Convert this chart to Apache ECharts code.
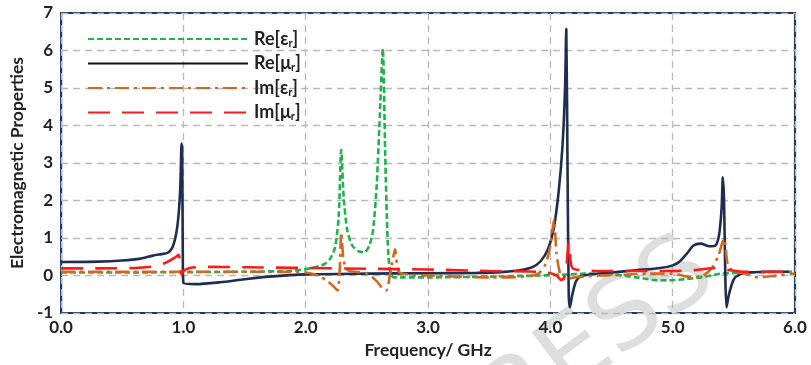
<!DOCTYPE html>
<html>
<head>
<meta charset="utf-8">
<script src="https://cdn.jsdelivr.net/npm/echarts@6/dist/echarts.min.js"></script>
<style>html,body{margin:0;padding:0;background:#fff;}#c{width:811px;height:365px;}</style>
</head>
<body>
<div id="c"></div>
<script>
// ---- data ----
const seriesNames = ['Re[εr]', 'Re[μr]', 'Im[εr]', 'Im[μr]'];
const xTicks = [0, 1, 2, 3, 4, 5, 6];

const reEpsX = [0, 0.5, 1.0, 1.5, 1.9, 2.05, 2.15, 2.2, 2.24, 2.27, 2.29, 2.31, 2.34, 2.38, 2.43, 2.48, 2.52, 2.55, 2.58, 2.61, 2.63, 2.65, 2.67, 2.69, 2.72, 2.8, 3.0, 3.5, 3.9, 4.1, 4.3, 4.5, 4.7, 4.85, 4.95, 5.1, 5.25, 5.4, 5.6, 6.0];
const reEpsY = [0.08, 0.08, 0.09, 0.1, 0.13, 0.2, 0.3, 0.45, 0.75, 1.6, 3.35, 2.1, 1.2, 0.8, 0.65, 0.62, 0.8, 1.2, 2.4, 4.6, 6.05, 3.2, 0.9, 0.1, -0.05, -0.05, -0.05, -0.03, 0.0, 0.02, 0.05, 0.03, -0.05, -0.12, -0.13, -0.1, -0.04, 0.05, 0.08, 0.1];

const reMuX = [0, 0.3, 0.5, 0.65, 0.75, 0.82, 0.87, 0.91, 0.94, 0.96, 0.975, 0.985, 0.99, 0.995, 1.0, 1.1, 1.3, 1.5, 1.7, 2.0, 2.5, 3.0, 3.4, 3.6, 3.75, 3.85, 3.92, 3.98, 4.03, 4.07, 4.1, 4.12, 4.13, 4.14, 4.15, 4.16, 4.18, 4.21, 4.25, 4.33, 4.5, 4.7, 4.9, 5.0, 5.06, 5.12, 5.17, 5.23, 5.3, 5.35, 5.38, 5.4, 5.41, 5.42, 5.43, 5.44, 5.46, 5.5, 5.55, 5.62, 5.8, 5.95];
const reMuY = [0.36, 0.37, 0.4, 0.45, 0.53, 0.57, 0.6, 0.75, 1.1, 1.6, 2.4, 3.52, 3.3, 0.5, -0.2, -0.23, -0.18, -0.1, -0.03, 0.03, 0.05, 0.06, 0.07, 0.09, 0.14, 0.22, 0.38, 0.7, 1.3, 2.3, 3.5, 5.0, 6.58, 3.0, -0.5, -0.85, -0.5, -0.15, -0.02, 0.03, 0.08, 0.14, 0.2, 0.27, 0.38, 0.6, 0.8, 0.85, 0.78, 0.8, 1.1, 1.8, 2.62, 2.0, 0.0, -0.85, -0.5, -0.1, 0.03, 0.08, 0.1, 0.1];

const imEpsX = [0, 0.5, 1.0, 1.5, 2.0, 2.1, 2.18, 2.23, 2.26, 2.28, 2.29, 2.31, 2.34, 2.4, 2.5, 2.58, 2.63, 2.66, 2.69, 2.71, 2.73, 2.76, 2.85, 3.0, 3.5, 3.8, 3.9, 3.96, 4.0, 4.03, 4.05, 4.08, 4.12, 4.2, 4.4, 4.6, 4.8, 5.0, 5.15, 5.25, 5.32, 5.37, 5.42, 5.45, 5.5, 5.6, 5.7, 5.8, 6.0];
const imEpsY = [0.1, 0.1, 0.1, 0.1, 0.08, 0.0, -0.15, -0.3, -0.4, 0.3, 1.15, 0.4, 0.15, 0.1, 0.05, -0.15, -0.35, -0.4, 0.05, 0.4, 0.7, 0.1, 0.02, 0.0, -0.05, -0.03, 0.05, 0.3, 0.8, 1.5, 0.6, 0.05, -0.1, -0.05, 0.0, 0.02, 0.05, 0.05, -0.05, 0.0, 0.2, 0.5, 0.98, 0.3, 0.1, 0.05, -0.05, -0.02, 0.05];

const imMuX = [0, 0.3, 0.6, 0.75, 0.84, 0.9, 0.94, 0.96, 0.975, 0.985, 1.0, 1.05, 1.2, 1.5, 2.0, 2.5, 3.0, 3.5, 3.9, 4.0, 4.05, 4.09, 4.11, 4.13, 4.15, 4.165, 4.18, 4.23, 4.4, 4.7, 5.0, 5.2, 5.35, 5.45, 5.6, 6.0];
const imMuY = [0.19, 0.19, 0.2, 0.24, 0.32, 0.42, 0.5, 0.55, 0.3, 0.02, 0.12, 0.2, 0.23, 0.22, 0.2, 0.18, 0.16, 0.12, 0.1, 0.06, 0.0, -0.12, -0.08, 0.2, 0.9, 0.4, 0.2, 0.15, 0.12, 0.12, 0.12, 0.15, 0.2, 0.15, 0.1, 0.1];

// ---- chart ----
function zip(xs, ys) { return xs.map((x, i) => [x, ys[i]]); }
const FONT = 'Lato';
const chart = echarts.init(document.getElementById('c'), null, { renderer: 'canvas' });

function legendFmt(name) {
  const m = name.match(/^(.*)r\](.*)$/);
  return '{a|' + m[1] + '}{s|r}{a|]}';
}

const mk = (name, xs, ys, color, type, z) => ({
  name: name, type: 'line', data: zip(xs, ys), symbol: 'none', smooth: 0.25, z: z,
  lineStyle: { color: color, width: 2.6, type: type }, itemStyle: { color: color }
});

chart.setOption({
  animation: false,
  backgroundColor: '#fff',
  grid: { left: 57, right: 16, top: 13, bottom: 52, show: true, borderColor: '#1f3864', borderWidth: 2.2, backgroundColor: 'transparent' },
  graphic: [{
    type: 'text', left: 418, top: 222, rotation: 0.64, z: 0, silent: true,
    style: { text: 'PRESS', fontSize: 100, fontFamily: 'DejaVu Sans', fill: '#dedede' }
  }],
  legend: {
    orient: 'vertical', left: 82, top: 25, itemWidth: 160, itemHeight: 12, itemGap: 6,
    itemStyle: { opacity: 0 },
    data: [
      { name: seriesNames[0] },
      { name: seriesNames[1], lineStyle: { color: '#111' } },
      { name: seriesNames[2] },
      { name: seriesNames[3] }
    ],
    formatter: legendFmt,
    textStyle: {
      padding: [0, 0, 0, 1],
      rich: {
        a: { fontSize: 18, fontWeight: 'bold', color: '#222', fontFamily: FONT, lineHeight: 19 },
        s: { fontSize: 11, fontWeight: 'bold', color: '#222', fontFamily: FONT, lineHeight: 9, verticalAlign: 'bottom' }
      }
    }
  },
  xAxis: {
    type: 'value', min: 0, max: 6, interval: 1,
    name: 'Frequency/ GHz', nameLocation: 'middle', nameGap: 28,
    nameTextStyle: { fontSize: 17.5, fontWeight: 'bold', color: '#222', fontFamily: FONT },
    axisLine: { show: false }, axisTick: { show: false },
    axisLabel: { fontSize: 17, fontWeight: 'bold', color: '#222', fontFamily: FONT, margin: 6, formatter: v => v.toFixed(1) },
    splitLine: { show: true, lineStyle: { color: '#b8b8b8', width: 1.3, type: [7, 5] } }
  },
  yAxis: {
    type: 'value', min: -1, max: 7, interval: 1,
    name: 'Electromagnetic Properties', nameLocation: 'middle', nameGap: 27,
    nameTextStyle: { fontSize: 17.5, fontWeight: 'bold', color: '#222', fontFamily: FONT },
    axisLine: { show: false }, axisTick: { show: false },
    axisLabel: { fontSize: 17, fontWeight: 'bold', color: '#222', fontFamily: FONT, margin: 8 },
    splitLine: { show: true, lineStyle: { color: '#b8b8b8', width: 1.3, type: [7, 5] } }
  },
  series: [
    mk(seriesNames[0], reEpsX, reEpsY, '#22b14c', [6, 3], 3),
    mk(seriesNames[1], reMuX, reMuY, '#1f2d50', 'solid', 4),
    mk(seriesNames[2], imEpsX, imEpsY, '#d0691f', [14, 5, 3, 5], 5),
    mk(seriesNames[3], imMuX, imMuY, '#ff1a1a', [22, 12], 6)
  ]
});
</script>
</body>
</html>
